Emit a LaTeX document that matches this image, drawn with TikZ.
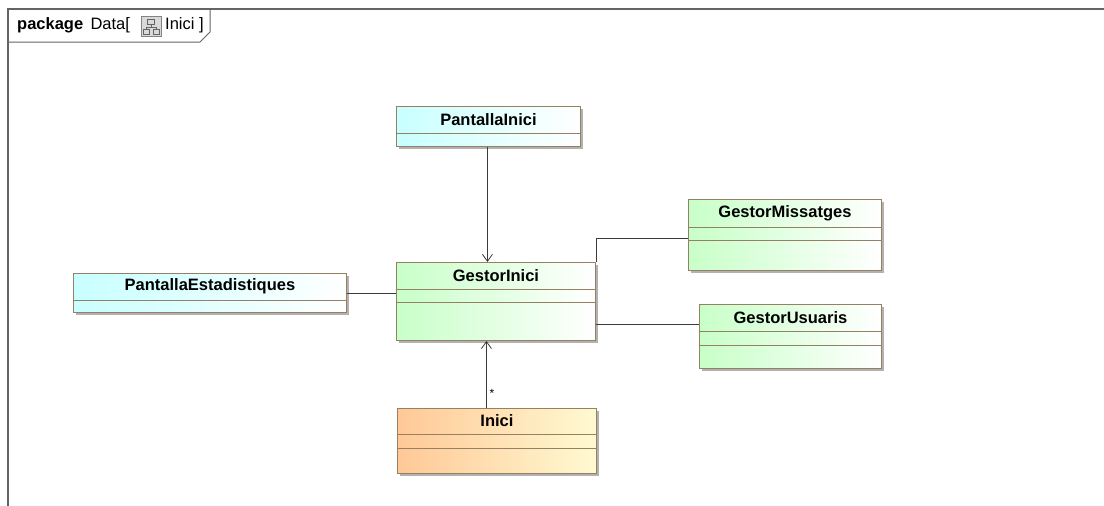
\documentclass[tikz,border=0pt]{standalone}
\usepackage{fontspec}
\setmainfont{Liberation Sans}
\usetikzlibrary{calc,arrows.meta,shadows}
\definecolor{bord}{RGB}{150,128,100}
\definecolor{frm}{RGB}{100,100,100}
\definecolor{lnk}{RGB}{60,60,60}
\definecolor{bluel}{RGB}{200,255,255}
\definecolor{greenl}{RGB}{200,255,200}
\definecolor{orl}{RGB}{255,200,150}
\definecolor{orr}{RGB}{255,250,210}
\begin{document}
\begin{tikzpicture}[x=1pt,y=-1pt,
  cls/.style={draw=bord, line width=0.9pt, inner sep=0pt, anchor=north west,
    general shadow={fill=black!30, shadow xshift=3pt, shadow yshift=-3pt}},
  bluecls/.style={cls, left color=bluel, right color=white},
  greencls/.style={cls, left color=greenl, right color=white},
  orcls/.style={cls, left color=orl, right color=orr},
  clsname/.style={font=\fontsize{16.5}{19}\selectfont\bfseries, inner sep=0pt},
  divl/.style={draw=bord, line width=0.9pt},
  assoc/.style={draw=lnk, line width=0.8pt},
  nav/.style={assoc, -{Straight Barb[length=7pt,width=10pt,line width=0.8pt]}},
  frame/.style={draw=frm, line width=1.3pt}
]
\useasboundingbox (0,0) rectangle (1104,506);
% frame
\draw[frame] (8,506) -- (8,9) -- (1104,9);
\draw[frame, line width=1pt] (8,42) -- (200,42) -- (210,32) -- (210,9);
\node[anchor=base west, inner sep=0pt, font=\fontsize{16.5}{19}\selectfont] (title) at (17,30)
  {\textbf{package}\, Data[};
\node[anchor=base west, inner sep=0pt, font=\fontsize{16.5}{19}\selectfont] (title2) at (165,30) {Inici ]};
% icon
\node[draw=frm!80, fill=black!15, minimum width=20pt, minimum height=20pt, inner sep=0pt, anchor=north west] (icon) at (141,16) {};
\draw[frm, line width=0.7pt] (147.5,19) rectangle (154.5,24);
\draw[frm, line width=0.7pt] (151,24) -- (151,27) (146,27) -- (156,27) (146,27) -- (146,29) (156,27) -- (156,29);
\draw[frm, line width=0.7pt] (143,29) rectangle (149,34) (153,29) rectangle (159,34);

% classes
\node[bluecls, minimum width=184pt, minimum height=40pt] (pi) at (396,106) {};
\node[clsname] at ($(pi.north)+(0,13.5)$) {PantallaInici};
\draw[divl] ($(pi.north west)+(0,27)$) -- ($(pi.north east)+(0,27)$);

\node[greencls, minimum width=199pt, minimum height=78pt] (gi) at (396,262) {};
\node[clsname] at ($(gi.north)+(0,13.5)$) {GestorInici};
\draw[divl] ($(gi.north west)+(0,27)$) -- ($(gi.north east)+(0,27)$);
\draw[divl] ($(gi.north west)+(0,40)$) -- ($(gi.north east)+(0,40)$);

\node[bluecls, minimum width=273pt, minimum height=39pt] (pe) at (73,273) {};
\node[clsname] at ($(pe.north)+(0,13.5)$) {PantallaEstadistiques};
\draw[divl] ($(pe.north west)+(0,27)$) -- ($(pe.north east)+(0,27)$);

\node[greencls, minimum width=193pt, minimum height=71pt] (gm) at (688,199) {};
\node[clsname] at ($(gm.north)+(0,14)$) {GestorMissatges};
\draw[divl] ($(gm.north west)+(0,28)$) -- ($(gm.north east)+(0,28)$);
\draw[divl] ($(gm.north west)+(0,41)$) -- ($(gm.north east)+(0,41)$);

\node[greencls, minimum width=182pt, minimum height=64pt] (gu) at (699,304) {};
\node[clsname] at ($(gu.north)+(0,13.5)$) {GestorUsuaris};
\draw[divl] ($(gu.north west)+(0,27)$) -- ($(gu.north east)+(0,27)$);
\draw[divl] ($(gu.north west)+(0,41)$) -- ($(gu.north east)+(0,41)$);

\node[orcls, minimum width=199pt, minimum height=65pt] (in) at (397,408) {};
\node[clsname] at ($(in.north)+(0,13)$) {Inici};
\draw[divl] ($(in.north west)+(0,26)$) -- ($(in.north east)+(0,26)$);
\draw[divl] ($(in.north west)+(0,40)$) -- ($(in.north east)+(0,40)$);

% connectors
\coordinate (pis) at ($(pi.south)+(-1,0)$);
\draw[nav] (pis) -- (pis |- gi.north);
\coordinate (inn) at ($(in.north)+(-10.5,0)$);
\draw[nav] (inn) -- (inn |- gi.south);
\node[inner sep=0pt, font=\fontsize{12}{12}\selectfont] (star) at (492,393) {*};
\draw[assoc] (pe.east) -- (pe.east -| gi.west);
\coordinate (gmj) at ($(gm.west)+(0,3.5)$);
\draw[assoc] (gi.north east) -- (gi.north east |- gmj) -- (gmj);
\coordinate (guj) at ($(gu.west)+(0,-12)$);
\draw[assoc] (guj -| gi.east) -- (guj);
\end{tikzpicture}
\end{document}
